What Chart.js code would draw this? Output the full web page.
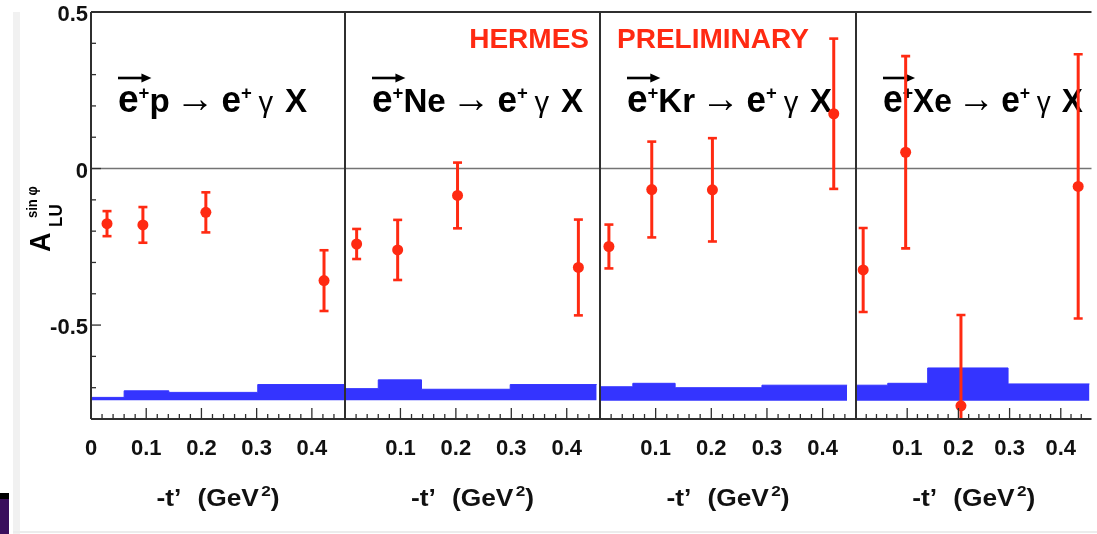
<!DOCTYPE html>
<html>
<head>
<meta charset="utf-8">
<title>Beam-spin asymmetry vs -t'</title>
<script src="https://cdn.jsdelivr.net/npm/chart.js@4.4.1/dist/chart.umd.min.js"></script>
<style>
  html, body { margin: 0; padding: 0; background: #fff; }
  #wrap { position: relative; width: 1097px; height: 534px; overflow: hidden; background: #fff; }
  #wrap canvas { position: absolute; left: 0; top: 0; }
  .strip { position: absolute; left: 13px; top: 12px; width: 7px; height: 522px; background: #f1f1f1; }
  .base  { position: absolute; left: 13px; top: 531px; width: 1084px; height: 2px; background: #ececec; }
  .tab   { position: absolute; left: 0; top: 493px; width: 9px; height: 41px; background: #3a0f5c; border-top: 6px solid #000; box-sizing: border-box; }
</style>
</head>
<body>
<div id="wrap">
  <div class="strip"></div>
  <div class="base"></div>
  <div class="tab"></div>
  <canvas id="panel0" width="1097" height="534"></canvas>
  <canvas id="panel1" width="1097" height="534"></canvas>
  <canvas id="panel2" width="1097" height="534"></canvas>
  <canvas id="panel3" width="1097" height="534"></canvas>
</div>
<script>
// ---------------- data ----------------
const targets = ['p', 'Ne', 'Kr', 'Xe'];

// mean -t' of each bin (GeV^2)
const tMeanP  = [0.029, 0.094, 0.208, 0.422];
const tMeanNe = [0.021, 0.095, 0.203, 0.421];
const tMeanKr = [0.016, 0.093, 0.202, 0.420];
const tMeanXe = [0.014, 0.097, 0.205, 0.434];

// A_LU^{sin phi} amplitudes and statistical uncertainties
const asymP  = [-0.176, -0.180, -0.140, -0.358];
const statP  = [0.040, 0.057, 0.064, 0.097];
const asymNe = [-0.241, -0.260, -0.086, -0.316];
const statNe = [0.048, 0.096, 0.105, 0.153];
const asymKr = [-0.249, -0.067, -0.068, 0.175];
const statKr = [0.070, 0.153, 0.165, 0.240];
const asymXe = [-0.324, 0.052, -0.758, -0.057];
const statXe = [0.134, 0.307, 0.290, 0.422];

// systematic-uncertainty bands: bin edges in -t', band top per bin, band floor
const sysEdgesP  = [0, 0.060, 0.141, 0.302, 0.460];
const sysTopP    = [-0.731, -0.710, -0.715, -0.690];
const sysEdgesNe = [0, 0.060, 0.138, 0.298, 0.454];
const sysTopNe   = [-0.703, -0.675, -0.705, -0.690];
const sysEdgesKr = [0, 0.059, 0.135, 0.291, 0.444];
const sysTopKr   = [-0.697, -0.686, -0.700, -0.692];
const sysEdgesXe = [0, 0.062, 0.140, 0.297, 0.456];
const sysTopXe   = [-0.692, -0.686, -0.637, -0.688];
const sysFloor   = [-0.740, -0.740, -0.742, -0.742];

// axis ticks
const xLabelTicks = [0.1, 0.2, 0.3, 0.4];
const xMinorTicks = [0.02, 0.04, 0.06, 0.08, 0.12, 0.14, 0.16, 0.18, 0.22, 0.24, 0.26, 0.28,
                     0.32, 0.34, 0.36, 0.38, 0.42, 0.44];
const yLabelTicks = [-0.5, 0, 0.5];
const yMinorTicks = [-0.8, -0.7, -0.6, -0.4, -0.3, -0.2, -0.1, 0.1, 0.2, 0.3, 0.4];

const panelData = [
  { t: tMeanP,  a: asymP,  s: statP,  edges: sysEdgesP,  top: sysTopP  },
  { t: tMeanNe, a: asymNe, s: statNe, edges: sysEdgesNe, top: sysTopNe },
  { t: tMeanKr, a: asymKr, s: statKr, edges: sysEdgesKr, top: sysTopKr },
  { t: tMeanXe, a: asymXe, s: statXe, edges: sysEdgesXe, top: sysTopXe }
];

// ---------------- layout & style ----------------
const W = 1097, H = 534;
const panelLeft  = [91, 345, 600, 856];
const panelRight = [345, 600, 856, 1097];
const plotTop = 12, plotBottom = 419;
const titleWidth = [189, 211, 205, 200];

const FONT = "'Liberation Sans', Arial, Helvetica, sans-serif";
const bold  = s => `bold ${s}px ${FONT}`;
const plain = s => `${s}px ${FONT}`;
const RED = '#ff2a12', BLUE = '#3434ff', INK = '#111111', FRAME = '#2f2f2f', ZERO = '#747474';

function line(ctx, x1, y1, x2, y2) {
  ctx.beginPath(); ctx.moveTo(x1, y1); ctx.lineTo(x2, y2); ctx.stroke();
}

// draws a run of text pieces (with sub/superscripts), optionally stretched to a width
function drawPieces(ctx, pieces, x, baseline, width, align, color) {
  const widths = pieces.map(p => {
    if (p.gap !== undefined) return p.gap;
    ctx.font = p.font;
    return ctx.measureText(p.text).width;
  });
  const natural = widths.reduce((a, b) => a + b, 0);
  const sx = width ? width / natural : 1;
  const total = natural * sx;
  const start = align === 'center' ? x - total / 2 : (align === 'right' ? x - total : x);
  ctx.save();
  ctx.translate(start, baseline);
  ctx.scale(sx, 1);
  ctx.fillStyle = color;
  ctx.textAlign = 'left';
  ctx.textBaseline = 'alphabetic';
  let cx = 0;
  pieces.forEach((p, i) => {
    if (p.gap === undefined) {
      ctx.font = p.font;
      ctx.fillText(p.text, cx, p.dy || 0);
    }
    cx += widths[i];
  });
  ctx.restore();
  return { start, sx, widths };
}

function drawReaction(ctx, x, baseline, target, width) {
  const pieces = [
    { text: 'e', font: bold(38) },
    { text: '+', font: bold(19), dy: -13 },
    { text: target, font: bold(34) },
    { gap: 6 },
    { text: '\u2192', font: plain(40) },
    { gap: 7 },
    { text: 'e', font: bold(36) },
    { text: '+', font: bold(19), dy: -13 },
    { gap: 7 },
    { text: '\u03b3', font: plain(30) },
    { gap: 12 },
    { text: 'X', font: bold(34) }
  ];
  const r = drawPieces(ctx, pieces, x, baseline, width, 'left', '#000');
  // beam polarisation arrow over e+
  const len = (r.widths[0] + r.widths[1]) * r.sx + 2;
  const ay = baseline - 34;
  ctx.save();
  ctx.strokeStyle = '#000'; ctx.fillStyle = '#000'; ctx.lineWidth = 2.6;
  line(ctx, r.start, ay, r.start + len - 6, ay);
  ctx.beginPath();
  ctx.moveTo(r.start + len - 10, ay - 4.5);
  ctx.lineTo(r.start + len, ay);
  ctx.lineTo(r.start + len - 10, ay + 4.5);
  ctx.closePath(); ctx.fill();
  ctx.restore();
}

const panelPlugin = {
  id: 'panelDeco',
  beforeDatasetsDraw(chart, _args, o) {
    const { ctx, chartArea: ca, scales: { y } } = chart;
    ctx.save();
    ctx.strokeStyle = ZERO; ctx.lineWidth = 1.6;
    const y0 = y.getPixelForValue(0);
    line(ctx, ca.left, y0, ca.right, y0);
    drawReaction(ctx, ca.left + 27, 112, o.target, o.titleWidth);
    if (o.banner === 'left') {
      ctx.font = bold(28); ctx.fillStyle = RED; ctx.textAlign = 'right'; ctx.textBaseline = 'alphabetic';
      ctx.fillText('HERMES', 589, 48);
    } else if (o.banner === 'right') {
      ctx.font = bold(28); ctx.fillStyle = RED; ctx.textAlign = 'left'; ctx.textBaseline = 'alphabetic';
      ctx.fillText('PRELIMINARY', 617, 48);
    }
    ctx.restore();
  },
  beforeDatasetDraw(chart, args) {
    if (args.index !== 1) return;
    const { ctx, chartArea: ca, scales: { x, y } } = chart;
    ctx.save();
    ctx.beginPath(); ctx.rect(ca.left, ca.top, ca.right - ca.left, ca.bottom - ca.top); ctx.clip();
    ctx.strokeStyle = RED;
    chart.data.datasets[1].data.forEach(p => {
      const px = x.getPixelForValue(p.x);
      const hi = y.getPixelForValue(p.y + p.err);
      const lo = y.getPixelForValue(p.y - p.err);
      ctx.lineWidth = 3;
      line(ctx, px, hi, px, lo);
      ctx.lineWidth = 2.6;
      line(ctx, px - 4.5, hi, px + 4.5, hi);
      line(ctx, px - 4.5, lo, px + 4.5, lo);
    });
    ctx.restore();
  },
  afterDatasetsDraw(chart, _args, o) {
    const { ctx, chartArea: ca, scales: { x, y } } = chart;
    ctx.save();
    // frame
    ctx.strokeStyle = FRAME; ctx.lineWidth = 2;
    line(ctx, ca.left, ca.top, ca.right, ca.top);
    line(ctx, ca.left, ca.bottom, ca.right, ca.bottom);
    line(ctx, ca.left, ca.top, ca.left, ca.bottom);
    // ticks on the -t' axis
    ctx.lineWidth = 1.3;
    xMinorTicks.forEach(v => { const px = x.getPixelForValue(v); line(ctx, px, ca.bottom, px, ca.bottom - 5); });
    xLabelTicks.forEach(v => { const px = x.getPixelForValue(v); line(ctx, px, ca.bottom, px, ca.bottom - 11); });
    if (o.yAxis) {
      yMinorTicks.forEach(v => { const py = y.getPixelForValue(v); line(ctx, ca.left, py, ca.left + 5, py); });
      yLabelTicks.forEach(v => { const py = y.getPixelForValue(v); line(ctx, ca.left, py, ca.left + 10, py); });
      // y-axis title  A_LU^{sin phi}
      ctx.save();
      ctx.translate(0, 252);
      ctx.rotate(-Math.PI / 2);
      ctx.scale(1, 1.08);
      ctx.fillStyle = '#000'; ctx.textAlign = 'left'; ctx.textBaseline = 'alphabetic';
      ctx.font = bold(27); ctx.fillText('A', 0, 46.5);
      ctx.font = bold(17); ctx.fillText('LU', 25, 57.5);
      ctx.font = bold(13); ctx.fillText('sin \u03c6', 34, 34.5);
      ctx.restore();
    }
    // -t' axis title
    drawPieces(ctx, [
      { text: '-t\u2019', font: bold(23) },
      { gap: 14 },
      { text: '(GeV', font: bold(23) },
      { gap: 2 },
      { text: '2', font: bold(15), dy: -10 },
      { text: ')', font: bold(23) }
    ], (ca.left + ca.right) / 2, 506, 123, 'center', INK);
    ctx.restore();
  }
};

panelData.forEach((pd, i) => {
  const band = pd.edges.map((e, k) => ({ x: e, y: pd.top[Math.min(k, pd.top.length - 1)] }));
  const points = pd.t.map((tv, k) => ({ x: tv, y: pd.a[k], err: pd.s[k] }));
  const hasY = i === 0;
  new Chart(document.getElementById('panel' + i), {
    type: 'scatter',
    plugins: [panelPlugin],
    data: {
      datasets: [
        {
          type: 'line', label: 'syst', data: band, stepped: 'before',
          fill: { value: sysFloor[i] }, backgroundColor: BLUE, borderColor: BLUE,
          borderWidth: 1, pointRadius: 0, order: 2
        },
        {
          type: 'scatter', label: targets[i], data: points,
          pointRadius: 5.5, pointBackgroundColor: RED, pointBorderColor: RED, pointBorderWidth: 0,
          order: 1
        }
      ]
    },
    options: {
      responsive: false,
      animation: false,
      events: [],
      layout: { padding: { left: hasY ? 0 : panelLeft[i], right: W - panelRight[i], top: plotTop, bottom: 0 } },
      plugins: {
        legend: { display: false },
        tooltip: { enabled: false },
        panelDeco: {
          target: targets[i],
          titleWidth: titleWidth[i],
          banner: i === 1 ? 'left' : (i === 2 ? 'right' : null),
          yAxis: hasY
        }
      },
      scales: {
        x: {
          type: 'linear', min: 0, max: 0.46,
          afterFit: s => { s.height = H - plotBottom; s.paddingLeft = 0; s.paddingRight = 0; s.paddingTop = 0; s.paddingBottom = 0; },
          afterBuildTicks: s => { s.ticks = (i === 0 ? [0, ...xLabelTicks] : xLabelTicks).map(v => ({ value: v })); },
          grid: { display: false, drawTicks: false },
          border: { display: false },
          ticks: {
            font: { family: FONT, size: 22, weight: 'bold' }, color: INK,
            padding: 17, maxRotation: 0, autoSkip: false, callback: v => String(v)
          }
        },
        y: {
          type: 'linear', min: -0.8, max: 0.5, display: hasY,
          afterFit: s => { s.width = hasY ? panelLeft[0] : 0; s.paddingLeft = 0; s.paddingRight = 0; s.paddingTop = 0; s.paddingBottom = 0; },
          afterBuildTicks: s => { s.ticks = yLabelTicks.map(v => ({ value: v })); },
          grid: { display: false, drawTicks: false },
          border: { display: false },
          ticks: {
            font: { family: FONT, size: 22, weight: 'bold' }, color: INK,
            padding: 3, labelOffset: 3, callback: v => String(v)
          }
        }
      }
    }
  });
});
</script>
</body>
</html>
